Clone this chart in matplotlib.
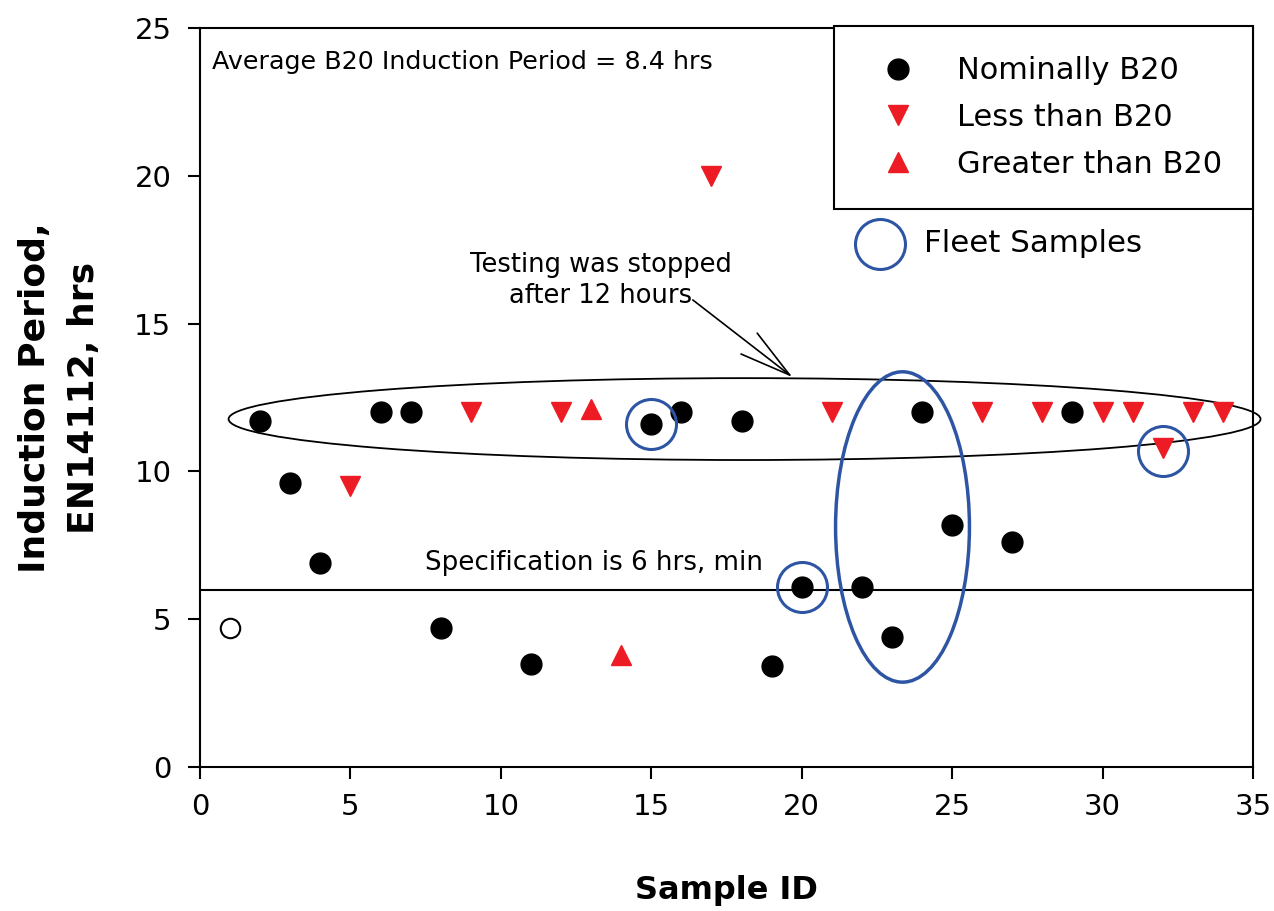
import matplotlib
matplotlib.use("Agg")
import matplotlib.pyplot as plt
from matplotlib.patches import Ellipse

plt.rcParams['font.family'] = ['DejaVu Sans']

# Data
nom_x = [2, 3, 4, 6, 7, 8, 11, 15, 16, 18, 19, 20, 22, 23, 24, 25, 27, 29]
nom_y = [11.7, 9.6, 6.9, 12.0, 12.0, 4.7, 3.5, 11.6, 12.0, 11.7, 3.4, 6.1, 6.1, 4.4, 12.0, 8.2, 7.6, 12.0]
open_x = [1]
open_y = [4.7]
less_x = [5, 9, 12, 17, 21, 26, 28, 30, 31, 32, 33, 34]
less_y = [9.5, 12.0, 12.0, 20.0, 12.0, 12.0, 12.0, 12.0, 12.0, 10.8, 12.0, 12.0]
greater_x = [13, 14]
greater_y = [12.1, 3.8]
fleet_x = [15, 20, 32]
fleet_y = [11.6, 6.1, 10.7]
spec_value = 6
x_ticks = [0, 5, 10, 15, 20, 25, 30, 35]
y_ticks = [0, 5, 10, 15, 20, 25]

RED = '#ED1C24'
BLUE = '#2E55A4'

fig = plt.figure(figsize=(12.74, 9.11), dpi=100)
ax = fig.add_axes([200/1274, 1-767/911, (1253-200)/1274, (767-28)/911])
ax.set_xlim(0, 35)
ax.set_ylim(0, 25)

ax.axhline(spec_value, color='black', lw=1.5, zorder=2)

ax.plot(nom_x, nom_y, 'o', color='black', ms=15, ls='none', zorder=4, label='Nominally B20')
ax.plot(less_x, less_y, 'v', color=RED, ms=15, ls='none', zorder=4, label='Less than B20')
ax.plot(greater_x, greater_y, '^', color=RED, ms=15, ls='none', zorder=4, label='Greater than B20')
ax.plot(open_x, open_y, 'o', mfc='white', mec='black', mew=1.5, ms=14, ls='none', zorder=4)
ax.plot(fleet_x, fleet_y, 'o', mfc='none', mec=BLUE, mew=2.2, ms=36, ls='none', zorder=5)

# group ellipses
ax.add_patch(Ellipse((18.1, 11.77), 34.3, 2.77, fill=False, ec='black', lw=1.3, clip_on=False, zorder=3))
ax.add_patch(Ellipse((23.35, 8.12), 4.45, 10.5, fill=False, ec=BLUE, lw=2.5, zorder=5))

# texts
ax.text(0.4, 23.85, 'Average B20 Induction Period = 8.4 hrs', fontsize=18.3, va='center', ha='left')
ax.text(7.47, 6.9, 'Specification is 6 hrs, min', fontsize=18.8, va='center', ha='left')
ax.text(13.32, 16.47, 'Testing was stopped\nafter 12 hours', fontsize=18.5, va='center', ha='center',
        linespacing=1.25)
ax.annotate('', xy=(19.69, 13.19), xytext=(16.38, 15.8),
            arrowprops=dict(arrowstyle='->,head_length=3.7,head_width=0.95', lw=1.2,
                            color='black', mutation_scale=10, shrinkA=0, shrinkB=0))

# fleet samples key
ax.plot([0.646], [0.708], 'o', transform=ax.transAxes, mfc='none', mec=BLUE, mew=2.2, ms=36,
        clip_on=False, zorder=6)
ax.text(0.688, 0.708, 'Fleet Samples', transform=ax.transAxes, fontsize=22.2, va='center', ha='left')

leg = ax.legend(loc='upper right', bbox_to_anchor=(1.0, 1.003), borderaxespad=0, fontsize=22,
                frameon=True, fancybox=False, edgecolor='black', framealpha=1, numpoints=1,
                handlelength=2.2, handletextpad=0.85, borderpad=1.0, labelspacing=0.58)
leg.get_frame().set_linewidth(1.5)

ax.set_xticks(x_ticks)
ax.set_yticks(y_ticks)
ax.tick_params(direction='out', length=8.6, width=1.5, labelsize=21)
ax.tick_params(axis='x', pad=10)
ax.tick_params(axis='y', pad=12)
for s in ax.spines.values():
    s.set_linewidth(1.5)

ax.set_xlabel('Sample ID', fontsize=23, fontweight='bold', labelpad=39)
ax.set_ylabel('Induction Period,\nEN14112, hrs', fontsize=26, fontweight='bold', labelpad=24,
              linespacing=1.55)

fig.savefig('out.png', dpi=100)
